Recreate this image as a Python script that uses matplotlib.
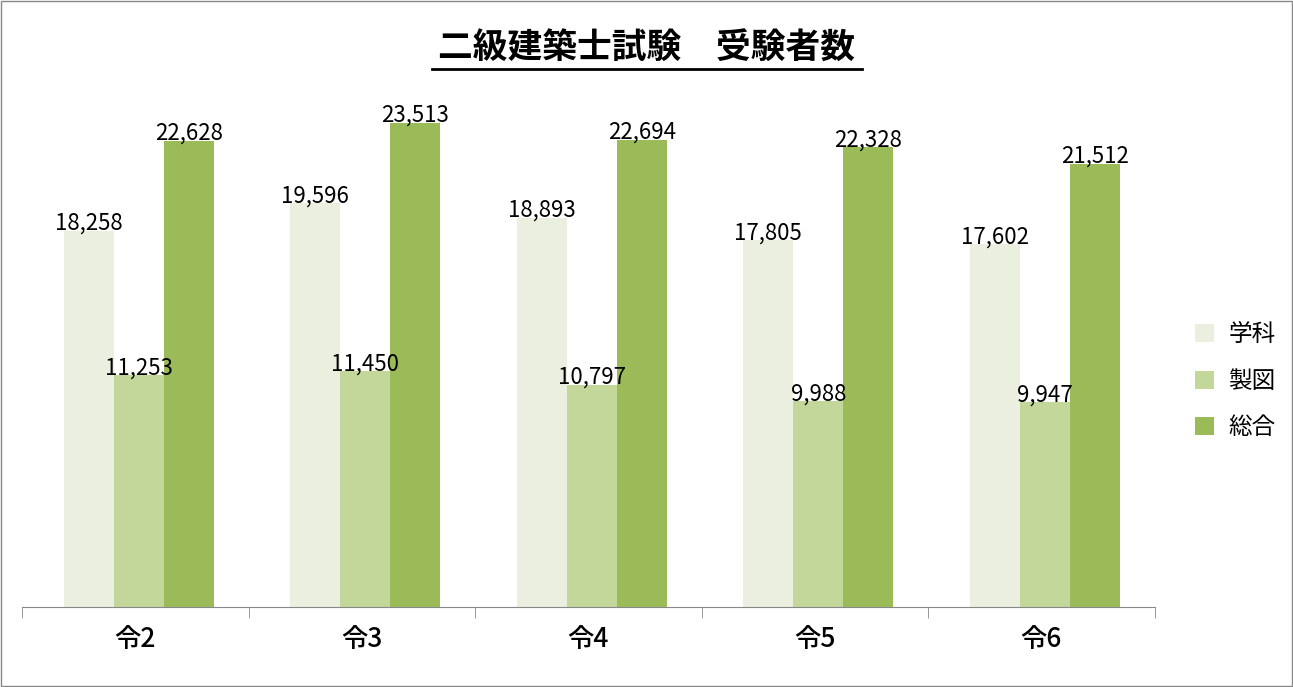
import matplotlib
matplotlib.use("Agg")
import matplotlib.pyplot as plt
import numpy as np

plt.rcParams['font.family'] = ['Noto Sans CJK JP', 'DejaVu Sans']

categories = ["令2", "令3", "令4", "令5", "令6"]
series_names = ["学科", "製図", "総合"]
gakka = [18258, 19596, 18893, 17805, 17602]
seizu = [11253, 11450, 10797, 9988, 9947]
sougou = [22628, 23513, 22694, 22328, 21512]
colors = ["#EBEFDF", "#C4D79B", "#9BBB59"]

fig = plt.figure(figsize=(12.93, 6.87), dpi=100)
fig.patches.append(plt.Rectangle((0.001, 0.001), 0.998, 0.998, transform=fig.transFigure,
                                 fill=False, edgecolor="#888888", lw=1))
ax = fig.add_axes([0.017, 0.1164, 0.876, 0.7496])
x = np.arange(len(categories))
w = 0.221
for i, (vals, c, name) in enumerate(zip([gakka, seizu, sougou], colors, series_names)):
    pos = x + (i - 1) * w + 0.015
    ax.bar(pos, vals, w, color=c, label=name)
    for p, v in zip(pos, vals):
        ax.text(p, v - 200, f"{v:,}", ha="center", va="bottom", fontsize=16)

ax.set_xlim(-0.5, len(categories) - 0.5)
ax.set_ylim(0, 25000)
ax.set_yticks([])
for s in ["top", "right", "left"]:
    ax.spines[s].set_visible(False)
ax.spines["bottom"].set_color("#888888")
ax.set_xticks(np.arange(-0.5, len(categories)), minor=True)
ax.tick_params(axis="x", which="minor", length=8, color="#888888")
ax.set_xticks(x)
ax.set_xticklabels(categories, fontsize=19, fontweight="medium")
ax.tick_params(axis="x", which="major", length=0, pad=14)

fig.text(0.5, 0.93, "二級建築士試験　受験者数", ha="center", va="center",
         fontsize=25, fontweight="bold")
fig.add_artist(plt.Line2D([0.334, 0.667], [0.9, 0.9], color="black", lw=2,
                          transform=fig.transFigure))

fig.legend(loc="center left", bbox_to_anchor=(0.908, 0.445), frameon=False,
           fontsize=17, handlelength=0.8, handleheight=0.8, labelspacing=1.0,
           handletextpad=0.6)
fig.savefig("out.png", dpi=100)
